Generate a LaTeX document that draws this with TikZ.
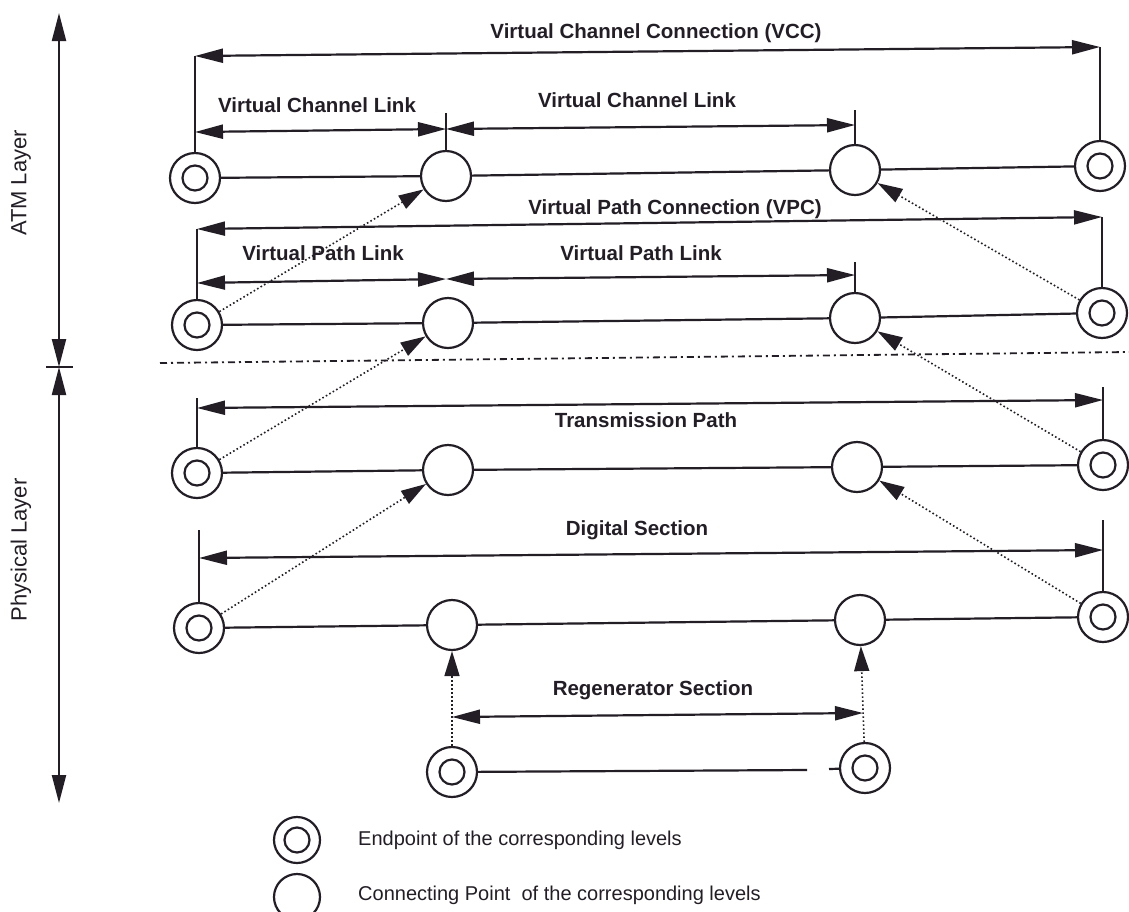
\documentclass[tikz,border=0pt]{standalone}
\usepackage{fontspec}
\setmainfont{Liberation Sans}
\usetikzlibrary{arrows.meta}
\definecolor{ink}{RGB}{35,30,38}
\begin{document}
\begin{tikzpicture}[x=1pt,y=-1pt,
  wire/.style={draw=ink, line width=2.2pt},
  ep/.style={circle, draw=ink, line width=2.2pt, minimum size=50pt, inner sep=0pt,
    path picture={\draw[ink, line width=2.2pt] (path picture bounding box.center) circle (12.5pt);}},
  cp/.style={circle, draw=ink, line width=2.2pt, minimum size=50pt, inner sep=0pt},
  dim/.style={ink, line width=2.2pt, {Triangle[length=28pt,width=14pt]}-{Triangle[length=28pt,width=14pt]}},
  tickline/.style={ink, line width=2pt},
  link/.style={ink, line width=1.6pt, dash pattern=on 1.6pt off 2.4pt, -{Triangle[length=25pt,width=15pt]}},
  lbl/.style={font=\fontsize{20.5}{24}\selectfont\bfseries, text=ink, inner sep=0pt},
  lgd/.style={font=\fontsize{20}{24}\selectfont, text=ink, inner sep=0pt, anchor=west},
  lay/.style={font=\fontsize{22}{26}\selectfont, text=ink, inner sep=0pt, rotate=90}
]
\useasboundingbox (0,0) rectangle (1129,911);
\clip (0,0) rectangle (1129,911);
\fill[white] (0,0) rectangle (1129,911);

% ---- layer axis ----
\coordinate (axTop) at (59,13);
\coordinate (axMid) at (59,367);
\coordinate (axBot) at (59,803);
\coordinate (tkL) at (46,367);
\coordinate (tkR) at (73,367);
\draw[dim] (axTop) -- (axMid);
\draw[dim] (axMid) -- (axBot);
\draw[tickline] (tkL) -- (tkR);
\node[lay] (atm) at (21,183) {ATM Layer};
\node[lay] (phy) at (21,550) {Physical Layer};

% ---- nodes ----
\node[ep] (e1l) at (195,178) {};
\node[cp] (c11) at (446,176) {};
\node[cp] (c12) at (855,170) {};
\node[ep] (e1r) at (1100,166) {};

\node[ep] (e2l) at (197,325) {};
\node[cp] (c21) at (448,323) {};
\node[cp] (c22) at (855,318) {};
\node[ep] (e2r) at (1102,313) {};

\node[ep] (e3l) at (197,473) {};
\node[cp] (c31) at (448,470) {};
\node[cp] (c32) at (857,467) {};
\node[ep] (e3r) at (1103,465) {};

\node[ep] (e4l) at (199,628) {};
\node[cp] (c41) at (452,625) {};
\node[cp] (c42) at (860,620) {};
\node[ep] (e4r) at (1103,617) {};

\node[ep] (rl) at (452,772) {};
\node[ep] (rr) at (865,768) {};

% ---- row wires ----
\draw[wire] (e1l) -- (c11); \draw[wire] (c11) -- (c12); \draw[wire] (c12) -- (e1r);
\draw[wire] (e2l) -- (c21); \draw[wire] (c21) -- (c22); \draw[wire] (c22) -- (e2r);
\draw[wire] (e3l) -- (c31); \draw[wire] (c31) -- (c32); \draw[wire] (c32) -- (e3r);
\draw[wire] (e4l) -- (c41); \draw[wire] (c41) -- (c42); \draw[wire] (c42) -- (e4r);
\coordinate (rg1) at (807,770);
\coordinate (rg2) at (829,769);
\draw[wire] (rl) -- (rg1);
\draw[wire] (rg2) -- (rr);

% ---- dimension lines: VCC / VCL ----
\coordinate (vccL) at (195,56);
\coordinate (vccR) at (1100,47);
\draw[dim] (vccL) -- (vccR);
\draw[tickline] (vccL) -- (e1l.north);
\draw[tickline] (vccR) -- (e1r.north);
\node[lbl] (tvcc) at (656,33) {Virtual Channel Connection (VCC)};

\coordinate (vclL) at (195,132);
\coordinate (vclM) at (446,129);
\coordinate (vclR) at (855,125);
\coordinate (vclMt) at (446,113);
\coordinate (vclRt) at (855,110);
\draw[dim] (vclL) -- (vclM);
\draw[dim] (vclM) -- (vclR);
\draw[tickline] (vclMt) -- (c11.north);
\draw[tickline] (vclRt) -- (c12.north);
\node[lbl] (tvcl1) at (317,105) {Virtual Channel Link};
\node[lbl] (tvcl2) at (637,100) {Virtual Channel Link};

% ---- VPC / VPL ----
\coordinate (vpcL) at (197,229);
\coordinate (vpcR) at (1102,217);
\draw[dim] (vpcL) -- (vpcR);
\draw[tickline] (vpcL) -- (e2l.north);
\draw[tickline] (vpcR) -- (e2r.north);
\node[lbl] (tvpc) at (675,209) {Virtual Path Connection (VPC)};

\coordinate (vplL) at (197,283);
\coordinate (vplM) at (446,279);
\coordinate (vplR) at (855,275);
\coordinate (vplRt) at (855,262);
\draw[dim] (vplL) -- (vplM);
\draw[dim] (vplM) -- (vplR);
\draw[tickline] (vplRt) -- (c22.north);
\node[lbl] (tvpl1) at (323,253) {Virtual Path Link};
\node[lbl] (tvpl2) at (641,253) {Virtual Path Link};

% ---- layer boundary ----
\coordinate (dd1) at (160,363);
\coordinate (dd2) at (1129,352);
\draw[ink, line width=1.8pt, dash pattern=on 7pt off 4pt on 2pt off 4pt] (dd1) -- (dd2);

% ---- Transmission path ----
\coordinate (tpL) at (197,408);
\coordinate (tpR) at (1103,400);
\coordinate (tpLt) at (197,398);
\coordinate (tpRt) at (1103,387);
\draw[dim] (tpL) -- (tpR);
\draw[tickline] (tpLt) -- (e3l.north);
\draw[tickline] (tpRt) -- (e3r.north);
\node[lbl] (ttp) at (646,420) {Transmission Path};

% ---- Digital section ----
\coordinate (dsL) at (199,558);
\coordinate (dsR) at (1103,550);
\coordinate (dsLt) at (199,530);
\coordinate (dsRt) at (1103,520);
\draw[dim] (dsL) -- (dsR);
\draw[tickline] (dsLt) -- (e4l.north);
\draw[tickline] (dsRt) -- (e4r.north);
\node[lbl] (tds) at (637,530) {Digital Section};

% ---- Regenerator section ----
\coordinate (rsL) at (452,717);
\coordinate (rsR) at (863,713);
\draw[dim] (rsL) -- (rsR);
\node[lbl] (trs) at (653,690) {Regenerator Section};

% ---- dotted mapping connectors ----
\draw[link] (e2l) -- (c11);
\draw[link] (e2r) -- (c12);
\draw[link] (e3l) -- (c21);
\draw[link] (e3r) -- (c22);
\draw[link] (e4l) -- (c31);
\draw[link] (e4r) -- (c32);
\draw[link] (rl) -- (c41);
\draw[link] (rr) -- (c42);

% ---- legend ----
\node[ep, minimum size=46pt] (le) at (297,840) {};
\node[cp, minimum size=46pt] (lc) at (297,897) {};
\node[lgd] (tle) at (358,840) {Endpoint of the corresponding levels};
\node[lgd] (tlc) at (358,895) {Connecting Point\ \ of the corresponding levels};
\end{tikzpicture}
\end{document}
